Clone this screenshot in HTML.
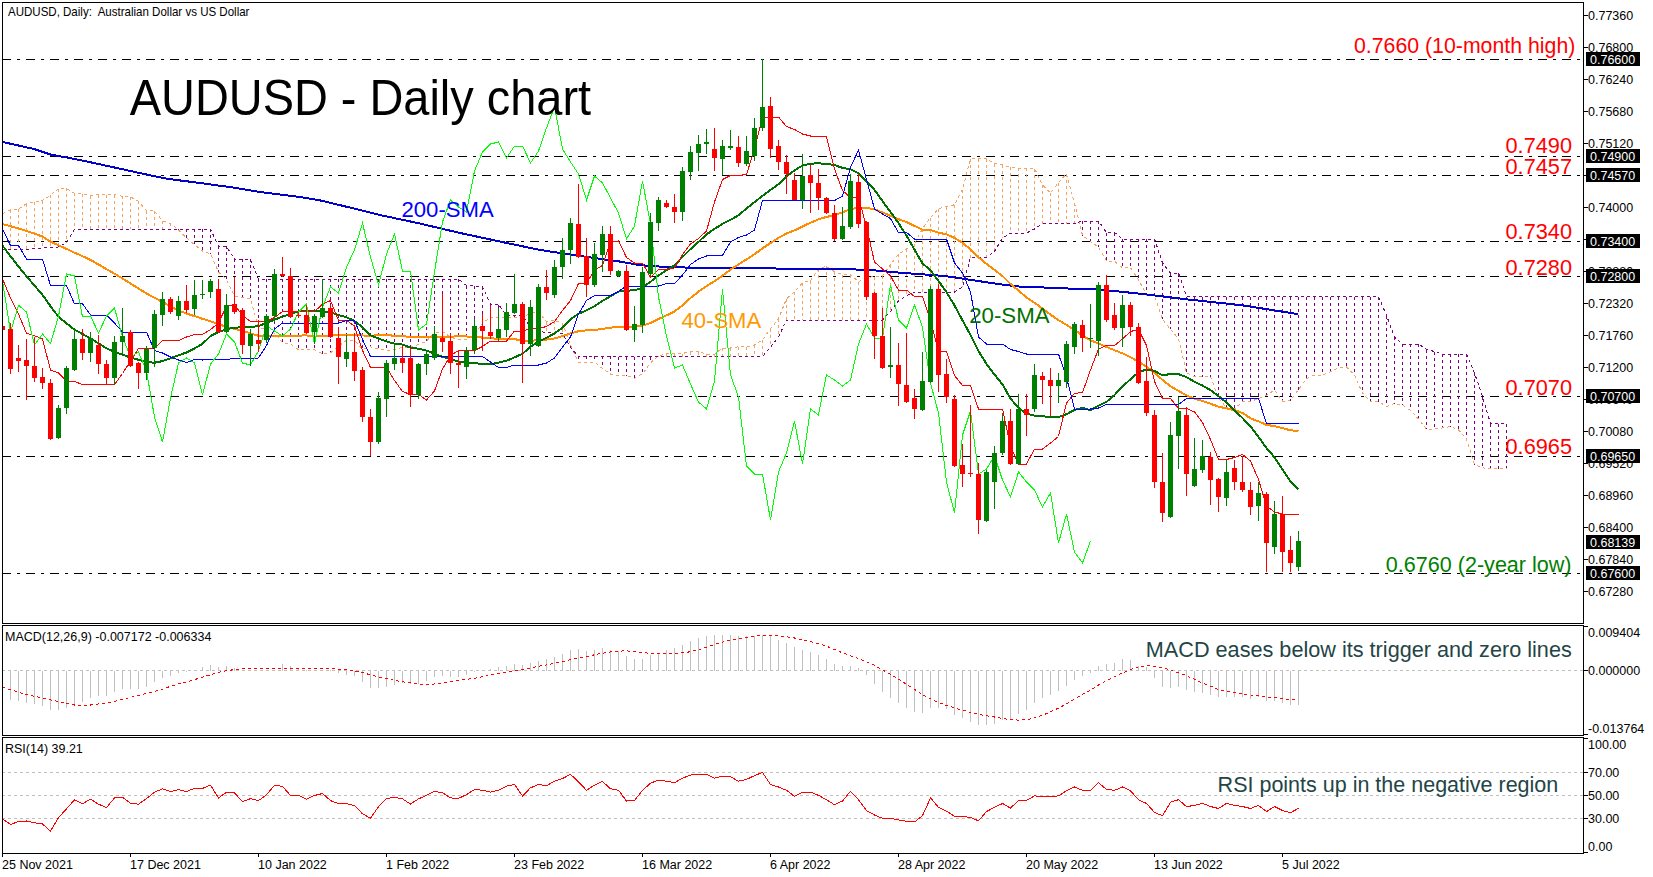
<!DOCTYPE html><html><head><meta charset="utf-8"><style>html,body{margin:0;padding:0;background:#fff;width:1653px;height:877px;overflow:hidden}svg{display:block}text{font-family:"Liberation Sans",sans-serif}</style></head><body>
<svg width="1653" height="877" viewBox="0 0 1653 877">
<rect x="0" y="0" width="1653" height="877" fill="#fff"/>
<defs><clipPath id="cm"><rect x="3" y="3" width="1580" height="620"/></clipPath><clipPath id="cmacd"><rect x="3" y="626" width="1580" height="109"/></clipPath><clipPath id="crsi"><rect x="3" y="738" width="1580" height="115"/></clipPath></defs>
<g clip-path="url(#cm)">
<line x1="2" y1="59.5" x2="1583" y2="59.5" stroke="#000" stroke-width="1" stroke-dasharray="9 6 3 6" shape-rendering="crispEdges"/>
<line x1="2" y1="156.5" x2="1583" y2="156.5" stroke="#000" stroke-width="1" stroke-dasharray="9 6 3 6" shape-rendering="crispEdges"/>
<line x1="2" y1="175.5" x2="1583" y2="175.5" stroke="#000" stroke-width="1" stroke-dasharray="9 6 3 6" shape-rendering="crispEdges"/>
<line x1="2" y1="241.5" x2="1583" y2="241.5" stroke="#000" stroke-width="1" stroke-dasharray="9 6 3 6" shape-rendering="crispEdges"/>
<line x1="2" y1="276.5" x2="1583" y2="276.5" stroke="#000" stroke-width="1" stroke-dasharray="9 6 3 6" shape-rendering="crispEdges"/>
<line x1="2" y1="396.5" x2="1583" y2="396.5" stroke="#000" stroke-width="1" stroke-dasharray="9 6 3 6" shape-rendering="crispEdges"/>
<line x1="2" y1="456.5" x2="1583" y2="456.5" stroke="#000" stroke-width="1" stroke-dasharray="9 6 3 6" shape-rendering="crispEdges"/>
<line x1="2" y1="573.5" x2="1583" y2="573.5" stroke="#000" stroke-width="1" stroke-dasharray="9 6 3 6" shape-rendering="crispEdges"/>
<g stroke="#F4A460" stroke-width="1" stroke-dasharray="3 3" shape-rendering="crispEdges"><line x1="2.5" y1="213.7" x2="2.5" y2="250"/><line x1="10.5" y1="209.8" x2="10.5" y2="249.5"/><line x1="18.5" y1="209.3" x2="18.5" y2="249.5"/><line x1="26.5" y1="203.6" x2="26.5" y2="249.5"/><line x1="34.5" y1="202.2" x2="34.5" y2="248.8"/><line x1="42.5" y1="200.5" x2="42.5" y2="248"/><line x1="50.5" y1="195.4" x2="50.5" y2="247.6"/><line x1="58.5" y1="188.6" x2="58.5" y2="247"/><line x1="66.5" y1="188.3" x2="66.5" y2="242.9"/><line x1="74.5" y1="193.4" x2="74.5" y2="229.3"/><line x1="82.5" y1="193.7" x2="82.5" y2="229.3"/><line x1="90.5" y1="195.8" x2="90.5" y2="229.3"/><line x1="98.5" y1="194.6" x2="98.5" y2="229.3"/><line x1="106.5" y1="194.6" x2="106.5" y2="229.3"/><line x1="114.5" y1="194.6" x2="114.5" y2="229.3"/><line x1="122.5" y1="196.3" x2="122.5" y2="229.3"/><line x1="130.5" y1="196.8" x2="130.5" y2="229.3"/><line x1="138.5" y1="201.4" x2="138.5" y2="229.3"/><line x1="146.5" y1="210.7" x2="146.5" y2="229.3"/><line x1="154.5" y1="211" x2="154.5" y2="229.3"/><line x1="162.5" y1="220.8" x2="162.5" y2="229.3"/><line x1="170.5" y1="223.4" x2="170.5" y2="229.3"/><line x1="530.5" y1="313.6" x2="530.5" y2="327.4"/><line x1="538.5" y1="311.8" x2="538.5" y2="331.2"/><line x1="546.5" y1="321.8" x2="546.5" y2="332.6"/><line x1="554.5" y1="320.5" x2="554.5" y2="332.6"/><line x1="562.5" y1="323.2" x2="562.5" y2="333.4"/><line x1="570.5" y1="345" x2="570.5" y2="347.5"/><line x1="658.5" y1="356" x2="658.5" y2="356.5"/><line x1="666.5" y1="353.5" x2="666.5" y2="356.5"/><line x1="674.5" y1="353.5" x2="674.5" y2="356.5"/><line x1="682.5" y1="353.5" x2="682.5" y2="356.5"/><line x1="690.5" y1="351.5" x2="690.5" y2="356.5"/><line x1="698.5" y1="351.5" x2="698.5" y2="356.5"/><line x1="706.5" y1="354.2" x2="706.5" y2="356.5"/><line x1="714.5" y1="354.2" x2="714.5" y2="356.5"/><line x1="722.5" y1="348" x2="722.5" y2="356.5"/><line x1="730.5" y1="348" x2="730.5" y2="356.5"/><line x1="738.5" y1="346.8" x2="738.5" y2="356.5"/><line x1="746.5" y1="346.8" x2="746.5" y2="356.5"/><line x1="754.5" y1="344.8" x2="754.5" y2="356.5"/><line x1="762.5" y1="339.8" x2="762.5" y2="356.5"/><line x1="770.5" y1="328.8" x2="770.5" y2="347"/><line x1="778.5" y1="318.8" x2="778.5" y2="337"/><line x1="786.5" y1="298.8" x2="786.5" y2="320"/><line x1="794.5" y1="292" x2="794.5" y2="320"/><line x1="802.5" y1="282.8" x2="802.5" y2="320"/><line x1="810.5" y1="280.5" x2="810.5" y2="320"/><line x1="818.5" y1="268.8" x2="818.5" y2="320"/><line x1="826.5" y1="266.2" x2="826.5" y2="320"/><line x1="834.5" y1="271.8" x2="834.5" y2="320"/><line x1="842.5" y1="274.5" x2="842.5" y2="320"/><line x1="850.5" y1="274.5" x2="850.5" y2="320"/><line x1="858.5" y1="281.8" x2="858.5" y2="320"/><line x1="866.5" y1="277.8" x2="866.5" y2="320"/><line x1="874.5" y1="276.5" x2="874.5" y2="320"/><line x1="882.5" y1="275.8" x2="882.5" y2="320"/><line x1="890.5" y1="264.8" x2="890.5" y2="311.5"/><line x1="898.5" y1="254.2" x2="898.5" y2="301"/><line x1="906.5" y1="248.8" x2="906.5" y2="295.5"/><line x1="914.5" y1="243.5" x2="914.5" y2="292.5"/><line x1="922.5" y1="228.8" x2="922.5" y2="292"/><line x1="930.5" y1="217.5" x2="930.5" y2="292"/><line x1="938.5" y1="208.8" x2="938.5" y2="292"/><line x1="946.5" y1="206.5" x2="946.5" y2="292"/><line x1="954.5" y1="204.8" x2="954.5" y2="292"/><line x1="962.5" y1="189.5" x2="962.5" y2="287"/><line x1="970.5" y1="158.8" x2="970.5" y2="257.5"/><line x1="978.5" y1="158.8" x2="978.5" y2="257.5"/><line x1="986.5" y1="158.8" x2="986.5" y2="257.5"/><line x1="994.5" y1="163.5" x2="994.5" y2="251.5"/><line x1="1002.5" y1="165" x2="1002.5" y2="238"/><line x1="1010.5" y1="167.2" x2="1010.5" y2="233"/><line x1="1018.5" y1="168.2" x2="1018.5" y2="233"/><line x1="1026.5" y1="168.2" x2="1026.5" y2="233"/><line x1="1034.5" y1="168.5" x2="1034.5" y2="229"/><line x1="1042.5" y1="184.8" x2="1042.5" y2="223.5"/><line x1="1050.5" y1="193.2" x2="1050.5" y2="223.5"/><line x1="1058.5" y1="182.5" x2="1058.5" y2="223.5"/><line x1="1066.5" y1="173.8" x2="1066.5" y2="223.5"/><line x1="1074.5" y1="203.2" x2="1074.5" y2="223.5"/></g>
<g stroke="#800080" stroke-width="1" stroke-dasharray="3 3" shape-rendering="crispEdges"><line x1="178.5" y1="229.3" x2="178.5" y2="230"/><line x1="186.5" y1="229.3" x2="186.5" y2="237.8"/><line x1="194.5" y1="229.3" x2="194.5" y2="244.6"/><line x1="202.5" y1="229.3" x2="202.5" y2="251"/><line x1="210.5" y1="229.3" x2="210.5" y2="254"/><line x1="218.5" y1="246.3" x2="218.5" y2="271.8"/><line x1="226.5" y1="246.3" x2="226.5" y2="279.8"/><line x1="234.5" y1="259.4" x2="234.5" y2="296.2"/><line x1="242.5" y1="259.4" x2="242.5" y2="297.4"/><line x1="250.5" y1="259.4" x2="250.5" y2="299"/><line x1="258.5" y1="279.3" x2="258.5" y2="327.8"/><line x1="266.5" y1="279.3" x2="266.5" y2="329.2"/><line x1="274.5" y1="279.3" x2="274.5" y2="333.2"/><line x1="282.5" y1="279.3" x2="282.5" y2="342.6"/><line x1="290.5" y1="279.3" x2="290.5" y2="344.1"/><line x1="298.5" y1="279.3" x2="298.5" y2="349.8"/><line x1="306.5" y1="279.3" x2="306.5" y2="349.8"/><line x1="314.5" y1="279.3" x2="314.5" y2="349.8"/><line x1="322.5" y1="279.3" x2="322.5" y2="353.8"/><line x1="330.5" y1="279.3" x2="330.5" y2="352.8"/><line x1="338.5" y1="279.3" x2="338.5" y2="346.5"/><line x1="346.5" y1="279.3" x2="346.5" y2="340.2"/><line x1="354.5" y1="279.3" x2="354.5" y2="340.2"/><line x1="362.5" y1="279.3" x2="362.5" y2="349.5"/><line x1="370.5" y1="279.3" x2="370.5" y2="346.8"/><line x1="378.5" y1="279.3" x2="378.5" y2="348.8"/><line x1="386.5" y1="279.3" x2="386.5" y2="350.2"/><line x1="394.5" y1="279.3" x2="394.5" y2="349.8"/><line x1="402.5" y1="279.3" x2="402.5" y2="347.1"/><line x1="410.5" y1="279.3" x2="410.5" y2="347.2"/><line x1="418.5" y1="279.3" x2="418.5" y2="344.5"/><line x1="426.5" y1="279.3" x2="426.5" y2="341.2"/><line x1="434.5" y1="279.3" x2="434.5" y2="332.8"/><line x1="442.5" y1="279.3" x2="442.5" y2="331.8"/><line x1="450.5" y1="279.3" x2="450.5" y2="337"/><line x1="458.5" y1="279.3" x2="458.5" y2="340"/><line x1="466.5" y1="285.5" x2="466.5" y2="339.8"/><line x1="474.5" y1="286" x2="474.5" y2="333.5"/><line x1="482.5" y1="286.7" x2="482.5" y2="323.2"/><line x1="490.5" y1="304.2" x2="490.5" y2="317.2"/><line x1="498.5" y1="304.5" x2="498.5" y2="317.2"/><line x1="506.5" y1="315.6" x2="506.5" y2="317.2"/><line x1="514.5" y1="315.6" x2="514.5" y2="317.2"/><line x1="522.5" y1="315.6" x2="522.5" y2="317.2"/><line x1="578.5" y1="356.4" x2="578.5" y2="362"/><line x1="586.5" y1="356.4" x2="586.5" y2="362"/><line x1="594.5" y1="356.4" x2="594.5" y2="362"/><line x1="602.5" y1="356.4" x2="602.5" y2="368.5"/><line x1="610.5" y1="356.4" x2="610.5" y2="374"/><line x1="618.5" y1="356.5" x2="618.5" y2="375.5"/><line x1="626.5" y1="356.5" x2="626.5" y2="375.5"/><line x1="634.5" y1="356.5" x2="634.5" y2="378.2"/><line x1="642.5" y1="356.5" x2="642.5" y2="373.8"/><line x1="650.5" y1="356.5" x2="650.5" y2="362.8"/><line x1="1082.5" y1="221" x2="1082.5" y2="235.5"/><line x1="1090.5" y1="221" x2="1090.5" y2="241.5"/><line x1="1098.5" y1="221" x2="1098.5" y2="247.2"/><line x1="1106.5" y1="232.5" x2="1106.5" y2="261.2"/><line x1="1114.5" y1="232.5" x2="1114.5" y2="261.2"/><line x1="1122.5" y1="239" x2="1122.5" y2="267.8"/><line x1="1130.5" y1="239" x2="1130.5" y2="267.8"/><line x1="1138.5" y1="239" x2="1138.5" y2="279.5"/><line x1="1146.5" y1="239" x2="1146.5" y2="295.2"/><line x1="1154.5" y1="239" x2="1154.5" y2="295.2"/><line x1="1162.5" y1="263" x2="1162.5" y2="319.2"/><line x1="1170.5" y1="273" x2="1170.5" y2="329.2"/><line x1="1178.5" y1="273" x2="1178.5" y2="338.8"/><line x1="1186.5" y1="296.5" x2="1186.5" y2="373"/><line x1="1194.5" y1="296.5" x2="1194.5" y2="376.5"/><line x1="1202.5" y1="296.5" x2="1202.5" y2="376.5"/><line x1="1210.5" y1="296.5" x2="1210.5" y2="376.5"/><line x1="1218.5" y1="296.5" x2="1218.5" y2="398"/><line x1="1226.5" y1="296.5" x2="1226.5" y2="407.8"/><line x1="1234.5" y1="296.5" x2="1234.5" y2="409"/><line x1="1242.5" y1="296.5" x2="1242.5" y2="401.5"/><line x1="1250.5" y1="296.5" x2="1250.5" y2="401.5"/><line x1="1258.5" y1="296.5" x2="1258.5" y2="398.5"/><line x1="1266.5" y1="296.5" x2="1266.5" y2="395.2"/><line x1="1274.5" y1="296.5" x2="1274.5" y2="390.2"/><line x1="1282.5" y1="296.5" x2="1282.5" y2="401.2"/><line x1="1290.5" y1="296.5" x2="1290.5" y2="400.8"/><line x1="1298.5" y1="296.5" x2="1298.5" y2="389.5"/><line x1="1306.5" y1="296.5" x2="1306.5" y2="378.5"/><line x1="1314.5" y1="296.5" x2="1314.5" y2="375"/><line x1="1322.5" y1="296.5" x2="1322.5" y2="375"/><line x1="1330.5" y1="296.5" x2="1330.5" y2="371.8"/><line x1="1338.5" y1="296.5" x2="1338.5" y2="368"/><line x1="1346.5" y1="296.5" x2="1346.5" y2="367"/><line x1="1354.5" y1="296.5" x2="1354.5" y2="375"/><line x1="1362.5" y1="296.5" x2="1362.5" y2="393"/><line x1="1370.5" y1="296.5" x2="1370.5" y2="401.5"/><line x1="1378.5" y1="296.5" x2="1378.5" y2="401.5"/><line x1="1386.5" y1="315.5" x2="1386.5" y2="406.5"/><line x1="1394.5" y1="337" x2="1394.5" y2="403.5"/><line x1="1402.5" y1="344" x2="1402.5" y2="405.2"/><line x1="1410.5" y1="344" x2="1410.5" y2="410.5"/><line x1="1418.5" y1="344" x2="1418.5" y2="419"/><line x1="1426.5" y1="349.5" x2="1426.5" y2="429"/><line x1="1434.5" y1="351.5" x2="1434.5" y2="429"/><line x1="1442.5" y1="354" x2="1442.5" y2="428"/><line x1="1450.5" y1="354" x2="1450.5" y2="426.5"/><line x1="1458.5" y1="354" x2="1458.5" y2="429.8"/><line x1="1466.5" y1="354" x2="1466.5" y2="439"/><line x1="1474.5" y1="373" x2="1474.5" y2="464.8"/><line x1="1482.5" y1="396.5" x2="1482.5" y2="467.8"/><line x1="1490.5" y1="423.5" x2="1490.5" y2="468.8"/><line x1="1498.5" y1="423.5" x2="1498.5" y2="468.8"/><line x1="1506.5" y1="423.5" x2="1506.5" y2="468.8"/></g>
<polyline points="2.5,213.7 10.5,209.8 18.5,209.3 26.5,203.6 34.5,202.2 42.5,200.5 50.5,195.4 58.5,188.6 66.5,188.3 74.5,193.4 82.5,193.7 90.5,195.8 98.5,194.6 106.5,194.6 114.5,194.6 122.5,196.3 130.5,196.8 138.5,201.4 146.5,210.7 154.5,211 162.5,220.8 170.5,223.4 178.5,230 186.5,237.8 194.5,244.6 202.5,251 210.5,254 218.5,271.8 226.5,279.8 234.5,296.2 242.5,297.4 250.5,299 258.5,327.8 266.5,329.2 274.5,333.2 282.5,342.6 290.5,344.1 298.5,349.8 306.5,349.8 314.5,349.8 322.5,353.8 330.5,352.8 338.5,346.5 346.5,340.2 354.5,340.2 362.5,349.5 370.5,346.8 378.5,348.8 386.5,350.2 394.5,349.8 402.5,347.1 410.5,347.2 418.5,344.5 426.5,341.2 434.5,332.8 442.5,331.8 450.5,337 458.5,340 466.5,339.8 474.5,333.5 482.5,323.2 490.5,317.2 498.5,317.2 506.5,317.2 514.5,317.2 522.5,317.2 530.5,313.6 538.5,311.8 546.5,321.8 554.5,320.5 562.5,323.2 570.5,345 578.5,362 586.5,362 594.5,362 602.5,368.5 610.5,374 618.5,375.5 626.5,375.5 634.5,378.2 642.5,373.8 650.5,362.8 658.5,356 666.5,353.5 674.5,353.5 682.5,353.5 690.5,351.5 698.5,351.5 706.5,354.2 714.5,354.2 722.5,348 730.5,348 738.5,346.8 746.5,346.8 754.5,344.8 762.5,339.8 770.5,328.8 778.5,318.8 786.5,298.8 794.5,292 802.5,282.8 810.5,280.5 818.5,268.8 826.5,266.2 834.5,271.8 842.5,274.5 850.5,274.5 858.5,281.8 866.5,277.8 874.5,276.5 882.5,275.8 890.5,264.8 898.5,254.2 906.5,248.8 914.5,243.5 922.5,228.8 930.5,217.5 938.5,208.8 946.5,206.5 954.5,204.8 962.5,189.5 970.5,158.8 978.5,158.8 986.5,158.8 994.5,163.5 1002.5,165 1010.5,167.2 1018.5,168.2 1026.5,168.2 1034.5,168.5 1042.5,184.8 1050.5,193.2 1058.5,182.5 1066.5,173.8 1074.5,203.2 1082.5,235.5 1090.5,241.5 1098.5,247.2 1106.5,261.2 1114.5,261.2 1122.5,267.8 1130.5,267.8 1138.5,279.5 1146.5,295.2 1154.5,295.2 1162.5,319.2 1170.5,329.2 1178.5,338.8 1186.5,373 1194.5,376.5 1202.5,376.5 1210.5,376.5 1218.5,398 1226.5,407.8 1234.5,409 1242.5,401.5 1250.5,401.5 1258.5,398.5 1266.5,395.2 1274.5,390.2 1282.5,401.2 1290.5,400.8 1298.5,389.5 1306.5,378.5 1314.5,375 1322.5,375 1330.5,371.8 1338.5,368 1346.5,367 1354.5,375 1362.5,393 1370.5,401.5 1378.5,401.5 1386.5,406.5 1394.5,403.5 1402.5,405.2 1410.5,410.5 1418.5,419 1426.5,429 1434.5,429 1442.5,428 1450.5,426.5 1458.5,429.8 1466.5,439 1474.5,464.8 1482.5,467.8 1490.5,468.8 1498.5,468.8 1506.5,468.8" fill="none" stroke="#F4A460" stroke-width="1" stroke-dasharray="3 3" shape-rendering="crispEdges"/>
<polyline points="2.5,250 10.5,249.5 18.5,249.5 26.5,249.5 34.5,248.8 42.5,248 50.5,247.6 58.5,247 66.5,242.9 74.5,229.3 82.5,229.3 90.5,229.3 98.5,229.3 106.5,229.3 114.5,229.3 122.5,229.3 130.5,229.3 138.5,229.3 146.5,229.3 154.5,229.3 162.5,229.3 170.5,229.3 178.5,229.3 186.5,229.3 194.5,229.3 202.5,229.3 210.5,229.3 218.5,246.3 226.5,246.3 234.5,259.4 242.5,259.4 250.5,259.4 258.5,279.3 266.5,279.3 274.5,279.3 282.5,279.3 290.5,279.3 298.5,279.3 306.5,279.3 314.5,279.3 322.5,279.3 330.5,279.3 338.5,279.3 346.5,279.3 354.5,279.3 362.5,279.3 370.5,279.3 378.5,279.3 386.5,279.3 394.5,279.3 402.5,279.3 410.5,279.3 418.5,279.3 426.5,279.3 434.5,279.3 442.5,279.3 450.5,279.3 458.5,279.3 466.5,285.5 474.5,286 482.5,286.7 490.5,304.2 498.5,304.5 506.5,315.6 514.5,315.6 522.5,315.6 530.5,327.4 538.5,331.2 546.5,332.6 554.5,332.6 562.5,333.4 570.5,347.5 578.5,356.4 586.5,356.4 594.5,356.4 602.5,356.4 610.5,356.4 618.5,356.5 626.5,356.5 634.5,356.5 642.5,356.5 650.5,356.5 658.5,356.5 666.5,356.5 674.5,356.5 682.5,356.5 690.5,356.5 698.5,356.5 706.5,356.5 714.5,356.5 722.5,356.5 730.5,356.5 738.5,356.5 746.5,356.5 754.5,356.5 762.5,356.5 770.5,347 778.5,337 786.5,320 794.5,320 802.5,320 810.5,320 818.5,320 826.5,320 834.5,320 842.5,320 850.5,320 858.5,320 866.5,320 874.5,320 882.5,320 890.5,311.5 898.5,301 906.5,295.5 914.5,292.5 922.5,292 930.5,292 938.5,292 946.5,292 954.5,292 962.5,287 970.5,257.5 978.5,257.5 986.5,257.5 994.5,251.5 1002.5,238 1010.5,233 1018.5,233 1026.5,233 1034.5,229 1042.5,223.5 1050.5,223.5 1058.5,223.5 1066.5,223.5 1074.5,223.5 1082.5,221 1090.5,221 1098.5,221 1106.5,232.5 1114.5,232.5 1122.5,239 1130.5,239 1138.5,239 1146.5,239 1154.5,239 1162.5,263 1170.5,273 1178.5,273 1186.5,296.5 1194.5,296.5 1202.5,296.5 1210.5,296.5 1218.5,296.5 1226.5,296.5 1234.5,296.5 1242.5,296.5 1250.5,296.5 1258.5,296.5 1266.5,296.5 1274.5,296.5 1282.5,296.5 1290.5,296.5 1298.5,296.5 1306.5,296.5 1314.5,296.5 1322.5,296.5 1330.5,296.5 1338.5,296.5 1346.5,296.5 1354.5,296.5 1362.5,296.5 1370.5,296.5 1378.5,296.5 1386.5,315.5 1394.5,337 1402.5,344 1410.5,344 1418.5,344 1426.5,349.5 1434.5,351.5 1442.5,354 1450.5,354 1458.5,354 1466.5,354 1474.5,373 1482.5,396.5 1490.5,423.5 1498.5,423.5 1506.5,423.5" fill="none" stroke="#800080" stroke-width="1" stroke-dasharray="3 3" shape-rendering="crispEdges"/>
<polyline points="2,141.8 34,149 50,154.4 80,160 111.8,166.9 143.7,173.9 167.7,178.9 199.6,182.9 235.6,187.9 259.5,191.9 299.5,196.9 320,200.4 356,209 379.9,215 419.8,223.5 459.7,232.9 499.7,241.5 539.6,249.9 579.5,255.9 619.5,261.5 640,265.2 666,267 722.8,268.5 755.5,267.8 788,268.9 866.6,269.6 901.4,272.8 945,276 1000,284.3 1019,286.5 1075.2,288.8 1098.4,289.4 1144.9,294.2 1183.6,299 1241.6,305.2 1297.8,314.1" fill="none" stroke="#0000CD" stroke-width="2" shape-rendering="crispEdges"/>
<polyline points="2.5,224 10.5,226.2 18.5,228.5 26.5,230.9 34.5,233.7 42.5,236.5 50.5,241.6 58.5,245.3 66.5,248.9 74.5,252.6 82.5,256.2 90.5,259.9 98.5,264.5 106.5,269.1 114.5,273.7 122.5,278.5 130.5,283.5 138.5,288.5 146.5,293.5 154.5,297.8 162.5,302 170.5,306.3 178.5,310.5 186.5,313.5 194.5,316.1 202.5,318.8 210.5,321.4 218.5,324.1 226.5,326.8 234.5,328.9 242.5,330.8 250.5,333.4 258.5,335.8 266.5,335.8 274.5,335.8 282.5,335.7 290.5,335.7 298.5,335.6 306.5,335.4 314.5,336.6 322.5,336.1 330.5,335.3 338.5,335.2 346.5,334.9 354.5,334.7 362.5,335.5 370.5,335.6 378.5,335.4 386.5,335.2 394.5,335.7 402.5,335.9 410.5,337.4 418.5,337.4 426.5,336.8 434.5,336.6 442.5,336.7 450.5,336.6 458.5,336.4 466.5,336.5 474.5,336.8 482.5,337.6 490.5,338.2 498.5,338.9 506.5,338.9 514.5,339.2 522.5,340.4 530.5,341.1 538.5,339.9 546.5,339.6 554.5,338.5 562.5,336.1 570.5,333.4 578.5,331.2 586.5,330.4 594.5,329.9 602.5,328.9 610.5,327.7 618.5,326.6 626.5,326.5 634.5,326.7 642.5,325.8 650.5,322.9 658.5,319 666.5,315.4 674.5,311.4 682.5,305.3 690.5,298 698.5,291.7 706.5,286.1 714.5,281.1 722.5,275.7 730.5,269.5 738.5,264.5 746.5,259.4 754.5,254.2 762.5,248.4 770.5,243 778.5,237.9 786.5,233.5 794.5,230.4 802.5,226.5 810.5,222.7 818.5,219.4 826.5,216.9 834.5,215.3 842.5,212.3 850.5,209.2 858.5,207.6 866.5,207.7 874.5,209.4 882.5,212.4 890.5,215.9 898.5,219.1 906.5,222.1 914.5,225.9 922.5,229.6 930.5,230.1 938.5,232.7 946.5,234.3 954.5,237.9 962.5,242.9 970.5,249.2 978.5,257.2 986.5,263.9 994.5,269.9 1002.5,276.1 1010.5,283.9 1018.5,290.6 1026.5,297.4 1034.5,302.8 1042.5,308.6 1050.5,314.6 1058.5,320.1 1066.5,324.9 1074.5,329.8 1082.5,335.6 1090.5,340.3 1098.5,343.4 1106.5,347 1114.5,350.2 1122.5,353.4 1130.5,357.1 1138.5,361.7 1146.5,366.7 1154.5,372.8 1162.5,379.9 1170.5,386.3 1178.5,390.9 1186.5,395.4 1194.5,398.7 1202.5,400.9 1210.5,403.8 1218.5,406.6 1226.5,408.4 1234.5,410.2 1242.5,412.9 1250.5,418.4 1258.5,421.3 1266.5,424.9 1274.5,426.1 1282.5,428.1 1290.5,430.3 1298.5,430.9" fill="none" stroke="#FF8C00" stroke-width="2" shape-rendering="crispEdges"/>
<polyline points="2.5,245.5 10.5,256.2 18.5,266.5 26.5,276.3 34.5,285.5 42.5,294.9 50.5,306.2 58.5,316.8 66.5,323.3 74.5,329.6 82.5,334 90.5,338.4 98.5,343.4 106.5,348.4 114.5,351.7 122.5,354.7 130.5,357.6 138.5,359.8 146.5,362 154.5,362.7 162.5,361.1 170.5,358.3 178.5,355.3 186.5,352.5 194.5,348.4 202.5,343.9 210.5,336 218.5,332.2 226.5,329.1 234.5,327.7 242.5,327.3 250.5,327.1 258.5,326.1 266.5,323 274.5,319.6 282.5,316.6 290.5,314.1 298.5,311.3 306.5,310.5 314.5,310.6 322.5,311.1 330.5,312.3 338.5,315.1 346.5,317.2 354.5,321 362.5,327.1 370.5,335.2 378.5,338.5 386.5,341.4 394.5,343.7 402.5,344.6 410.5,347.6 418.5,348.7 426.5,350.6 434.5,353.6 442.5,356.9 450.5,359.1 458.5,361.6 466.5,362.5 474.5,363 482.5,364.1 490.5,364.1 498.5,362.7 506.5,360.7 514.5,357.4 522.5,353.7 530.5,346.9 538.5,341.4 546.5,337.9 554.5,333.4 562.5,327.7 570.5,319.1 578.5,313.8 586.5,310.3 594.5,306.3 602.5,300.9 610.5,296.3 618.5,291.6 626.5,290.6 634.5,290.4 642.5,287.5 650.5,281.8 658.5,275.4 666.5,270.1 674.5,265.5 682.5,256.9 690.5,249.1 698.5,241.9 706.5,234.4 714.5,228.9 722.5,223.8 730.5,219.9 738.5,215.2 746.5,208.5 754.5,202.2 762.5,195.8 770.5,189.8 778.5,184.3 786.5,176.5 794.5,170.3 802.5,165.5 810.5,163.6 818.5,163.4 826.5,163.8 834.5,165.1 842.5,167.8 850.5,169.3 858.5,173.3 866.5,181.1 874.5,189.9 882.5,201.1 890.5,212 898.5,223.1 906.5,235.6 914.5,249.7 922.5,263.4 930.5,270.4 938.5,281 946.5,292.1 954.5,305.4 962.5,320.4 970.5,334.9 978.5,351 986.5,363.9 994.5,374.6 1002.5,384.4 1010.5,398.6 1018.5,407.8 1026.5,413.7 1034.5,415.6 1042.5,416.2 1050.5,417.3 1058.5,417.1 1066.5,414.2 1074.5,409.9 1082.5,407.8 1090.5,410.2 1098.5,405.8 1106.5,401.9 1114.5,395 1122.5,386.6 1130.5,379.2 1138.5,372.4 1146.5,369.4 1154.5,370.9 1162.5,375.4 1170.5,374 1178.5,374.1 1186.5,377.1 1194.5,381.8 1202.5,385.6 1210.5,390.2 1218.5,396.1 1226.5,402.5 1234.5,410.4 1242.5,418 1250.5,426.4 1258.5,436.9 1266.5,448 1274.5,457.3 1282.5,469.6 1290.5,481.4 1298.5,489.4" fill="none" stroke="#007000" stroke-width="2" shape-rendering="crispEdges"/>
<polyline points="2.5,279 10.5,298 18.5,314 26.5,333.4 34.5,335.7 42.5,339 50.5,370 58.5,373 66.5,381 74.5,381.5 82.5,384.5 90.5,384.5 98.5,384.5 106.5,384.5 114.5,384.5 122.5,373.5 130.5,361 138.5,348.5 146.5,348.5 154.5,348.5 162.5,340.5 170.5,340.5 178.5,340.5 186.5,337 194.5,334.5 202.5,334.5 210.5,329.5 218.5,323 226.5,306 234.5,305 242.5,315.5 250.5,321.5 258.5,321.5 266.5,321.5 274.5,317.5 282.5,311.5 290.5,311.5 298.5,311.5 306.5,311.5 314.5,311.5 322.5,304.2 330.5,300.5 338.5,320.5 346.5,320.5 354.5,326 362.5,350.5 370.5,367.5 378.5,367.5 386.5,367.5 394.5,380.5 402.5,391.5 410.5,394.5 418.5,394.5 426.5,400 434.5,391 442.5,369 450.5,355.5 458.5,350.5 466.5,350.5 474.5,350.5 482.5,346.5 490.5,341 498.5,341 506.5,341 514.5,331 522.5,331 530.5,328.5 538.5,328.5 546.5,326.5 554.5,321.5 562.5,310.5 570.5,300.5 578.5,283.5 586.5,283.5 594.5,270 602.5,265.5 610.5,242 618.5,241 626.5,257.5 634.5,263 642.5,263 650.5,277.5 658.5,269.5 666.5,269.5 674.5,268 682.5,254.5 690.5,244 698.5,238.5 706.5,231 714.5,202 722.5,179.5 730.5,175.5 738.5,175.5 746.5,174.5 754.5,149 762.5,117 770.5,117 778.5,117 786.5,126.5 794.5,129.5 802.5,134 810.5,136 818.5,136 826.5,136.5 834.5,169 842.5,190.5 850.5,197.5 858.5,197.5 866.5,227 874.5,262 882.5,269 890.5,276 898.5,290 906.5,290 914.5,296.5 922.5,296.5 930.5,320 938.5,351.5 946.5,351.5 954.5,375.5 962.5,385.5 970.5,385.5 978.5,409 986.5,409 994.5,409 1002.5,409 1010.5,446.5 1018.5,464 1026.5,464 1034.5,449 1042.5,449 1050.5,443 1058.5,436.5 1066.5,403 1074.5,393.5 1082.5,392.5 1090.5,370 1098.5,349 1106.5,345.5 1114.5,345.5 1122.5,339 1130.5,331.5 1138.5,329.5 1146.5,345.5 1154.5,381.5 1162.5,398.5 1170.5,398.5 1178.5,408.5 1186.5,408.5 1194.5,412 1202.5,422.5 1210.5,439.5 1218.5,459.5 1226.5,459.5 1234.5,457.5 1242.5,454.5 1250.5,461 1258.5,479.5 1266.5,506 1274.5,512 1282.5,514 1290.5,514 1298.5,514" fill="none" stroke="#FF0000" stroke-width="1" shape-rendering="crispEdges"/>
<polyline points="2.5,229 10.5,245.6 18.5,245.6 26.5,259 34.5,259 42.5,259 50.5,285.5 58.5,285.5 66.5,285.5 74.5,303.8 82.5,303.8 90.5,315 98.5,315 106.5,315 114.5,323 122.5,332 130.5,332 138.5,332 146.5,332 154.5,350.5 162.5,353 170.5,357 178.5,360 186.5,362.5 194.5,359.6 202.5,360 210.5,359.5 218.5,359.5 226.5,359.5 234.5,358.5 242.5,358.5 250.5,358.5 258.5,358 266.5,345.5 274.5,329 282.5,323 290.5,323 298.5,323 306.5,323 314.5,323 322.5,323 330.5,323 338.5,323 346.5,320.5 354.5,320.5 362.5,339.5 370.5,356.5 378.5,356.5 386.5,356.5 394.5,356.5 402.5,356.5 410.5,356.5 418.5,356.5 426.5,356.5 434.5,356.5 442.5,356.5 450.5,356.5 458.5,356.5 466.5,356.5 474.5,356.5 482.5,356.5 490.5,362 498.5,367.5 506.5,367.5 514.5,365 522.5,365 530.5,365 538.5,365 546.5,363 554.5,358 562.5,347 570.5,337 578.5,314 586.5,300.5 594.5,295.5 602.5,295.5 610.5,295.5 618.5,291.5 626.5,286 634.5,286 642.5,286 650.5,286 658.5,286 666.5,283.5 674.5,283.5 682.5,275 690.5,264.5 698.5,259 706.5,256 714.5,255.5 722.5,255.5 730.5,242 738.5,237.5 746.5,235 754.5,230 762.5,200.5 770.5,200.5 778.5,200.5 786.5,200.5 794.5,200.5 802.5,200.5 810.5,200.5 818.5,200.5 826.5,200.5 834.5,200.5 842.5,196 850.5,167.5 858.5,150 866.5,179.5 874.5,209 882.5,214 890.5,218.5 898.5,232.5 906.5,232.5 914.5,239 922.5,239 930.5,239 938.5,239 946.5,239 954.5,263 962.5,273 970.5,292 978.5,337 986.5,344 994.5,344 1002.5,344 1010.5,349.5 1018.5,351.5 1026.5,354 1034.5,354 1042.5,354 1050.5,354 1058.5,354 1066.5,377.5 1074.5,409 1082.5,409 1090.5,409 1098.5,408 1106.5,404.5 1114.5,404.5 1122.5,404.5 1130.5,404.5 1138.5,404.5 1146.5,404.5 1154.5,404.5 1162.5,404.5 1170.5,404.5 1178.5,404.5 1186.5,398.5 1194.5,398.5 1202.5,398.5 1210.5,398.5 1218.5,398.5 1226.5,398.5 1234.5,398.5 1242.5,398.5 1250.5,398.5 1258.5,398.5 1266.5,423.5 1274.5,423.5 1282.5,423.5 1290.5,423.5 1298.5,423.5" fill="none" stroke="#0000FF" stroke-width="1" shape-rendering="crispEdges"/>
<polyline points="2.5,281 10.5,332 18.5,305.3 26.5,312 34.5,345 42.5,334 50.5,343.5 58.5,316.2 66.5,274 74.5,276 82.5,317 90.5,316 98.5,333 106.5,316 114.5,308 122.5,337 130.5,357 138.5,352 146.5,371 154.5,417 162.5,442 170.5,398 178.5,363 186.5,358 194.5,363 202.5,395 210.5,364 218.5,354 226.5,334 234.5,342 242.5,363 250.5,365 258.5,351 266.5,326 274.5,331 282.5,336 290.5,329 298.5,312 306.5,304 314.5,344 322.5,307 330.5,287 338.5,293 346.5,267 354.5,250 362.5,223 370.5,257 378.5,285 386.5,254 394.5,234 402.5,271 410.5,271 418.5,330 426.5,324 434.5,272 442.5,222 450.5,200 458.5,207 466.5,212 474.5,171 482.5,152 490.5,144 498.5,142 506.5,158 514.5,146 522.5,146 530.5,163 538.5,151 546.5,128 554.5,107 562.5,149 570.5,162 578.5,174 586.5,200 594.5,176 602.5,183 610.5,198 618.5,213 626.5,239 634.5,226 642.5,181 650.5,224 658.5,297 666.5,336 674.5,368 682.5,365 690.5,384 698.5,402 706.5,409 714.5,381 722.5,289 730.5,375 738.5,397 746.5,466 754.5,474 762.5,474 770.5,520 778.5,472 786.5,453 794.5,421 802.5,464 810.5,409 818.5,415 826.5,375 834.5,380 842.5,386 850.5,380 858.5,344 866.5,324 874.5,338 882.5,338 890.5,285 898.5,320 906.5,328 914.5,305 922.5,327 930.5,383 938.5,413 946.5,482 954.5,513 962.5,435 970.5,411 978.5,474 986.5,469 994.5,456 1002.5,480 1010.5,497 1018.5,472 1026.5,482 1034.5,490 1042.5,507 1050.5,493 1058.5,543 1066.5,514 1074.5,552 1082.5,563 1090.5,541" fill="none" stroke="#00FF00" stroke-width="1" shape-rendering="crispEdges"/>
<g fill="#008000" shape-rendering="crispEdges"><rect x="58" y="405" width="1" height="34"/><rect x="56" y="408" width="5" height="30"/><rect x="66" y="366" width="1" height="48"/><rect x="64" y="368" width="5" height="40"/><rect x="74" y="329" width="1" height="42"/><rect x="72" y="339" width="5" height="31"/><rect x="90" y="332" width="1" height="30"/><rect x="88" y="338" width="5" height="15"/><rect x="114" y="336" width="1" height="49"/><rect x="112" y="342" width="5" height="36"/><rect x="122" y="308" width="1" height="46"/><rect x="120" y="336" width="5" height="6"/><rect x="146" y="346" width="1" height="34"/><rect x="144" y="349" width="5" height="24"/><rect x="154" y="310" width="1" height="57"/><rect x="152" y="314" width="5" height="34"/><rect x="162" y="292" width="1" height="34"/><rect x="160" y="299" width="5" height="16"/><rect x="178" y="296" width="1" height="24"/><rect x="176" y="301" width="5" height="15"/><rect x="194" y="280" width="1" height="35"/><rect x="192" y="295" width="5" height="14"/><rect x="202" y="280" width="1" height="19"/><rect x="200" y="294" width="5" height="1"/><rect x="210" y="279" width="1" height="19"/><rect x="208" y="281" width="5" height="11"/><rect x="226" y="294" width="1" height="39"/><rect x="224" y="305.3" width="5" height="26.3"/><rect x="250" y="329" width="1" height="37"/><rect x="248" y="334" width="5" height="12.4"/><rect x="266" y="314" width="1" height="29"/><rect x="264" y="316.2" width="5" height="23.4"/><rect x="274" y="269" width="1" height="53"/><rect x="272" y="274" width="5" height="42"/><rect x="314" y="314" width="1" height="30"/><rect x="312" y="316" width="5" height="16"/><rect x="322" y="279" width="1" height="39"/><rect x="320" y="308" width="5" height="9"/><rect x="346" y="335" width="1" height="32"/><rect x="344" y="352" width="5" height="7"/><rect x="378" y="392" width="1" height="52"/><rect x="376" y="398" width="5" height="44"/><rect x="386" y="360" width="1" height="57"/><rect x="384" y="363" width="5" height="36"/><rect x="394" y="344" width="1" height="26"/><rect x="392" y="358" width="5" height="6"/><rect x="418" y="363" width="1" height="36"/><rect x="416" y="364" width="5" height="31"/><rect x="426" y="351" width="1" height="24"/><rect x="424" y="354" width="5" height="10"/><rect x="434" y="326" width="1" height="34"/><rect x="432" y="334" width="5" height="24"/><rect x="466" y="347" width="1" height="32"/><rect x="464" y="351" width="5" height="16"/><rect x="474" y="319" width="1" height="35"/><rect x="472" y="326" width="5" height="24"/><rect x="498" y="308" width="1" height="33"/><rect x="496" y="329" width="5" height="9"/><rect x="506" y="303" width="1" height="34"/><rect x="504" y="312" width="5" height="18"/><rect x="514" y="274" width="1" height="40"/><rect x="512" y="304" width="5" height="9"/><rect x="530" y="300" width="1" height="56"/><rect x="528" y="307" width="5" height="37"/><rect x="538" y="284" width="1" height="63"/><rect x="536" y="287" width="5" height="59"/><rect x="554" y="260" width="1" height="38"/><rect x="552" y="267" width="5" height="28"/><rect x="562" y="238" width="1" height="41"/><rect x="560" y="250" width="5" height="17"/><rect x="570" y="218" width="1" height="46"/><rect x="568" y="223" width="5" height="27"/><rect x="594" y="243" width="1" height="44"/><rect x="592" y="254" width="5" height="31"/><rect x="602" y="226" width="1" height="46"/><rect x="600" y="234" width="5" height="21"/><rect x="618" y="270" width="1" height="7"/><rect x="616" y="271" width="5" height="5"/><rect x="634" y="306" width="1" height="36"/><rect x="632" y="324" width="5" height="6"/><rect x="642" y="267" width="1" height="66"/><rect x="640" y="272" width="5" height="53"/><rect x="650" y="213" width="1" height="63"/><rect x="648" y="222" width="5" height="52"/><rect x="658" y="197" width="1" height="34"/><rect x="656" y="200" width="5" height="23"/><rect x="682" y="167" width="1" height="54"/><rect x="680" y="171" width="5" height="41"/><rect x="690" y="146" width="1" height="34"/><rect x="688" y="152" width="5" height="20"/><rect x="698" y="135" width="1" height="36"/><rect x="696" y="144" width="5" height="9"/><rect x="706" y="129" width="1" height="25"/><rect x="704" y="142" width="5" height="2"/><rect x="722" y="140" width="1" height="35"/><rect x="720" y="146" width="5" height="13"/><rect x="730" y="130" width="1" height="20"/><rect x="728" y="146" width="5" height="2"/><rect x="746" y="136" width="1" height="30"/><rect x="744" y="151" width="5" height="13"/><rect x="754" y="118" width="1" height="43"/><rect x="752" y="128" width="5" height="28"/><rect x="762" y="59" width="1" height="72"/><rect x="760" y="107" width="5" height="21"/><rect x="802" y="154" width="1" height="55"/><rect x="800" y="176" width="5" height="24"/><rect x="842" y="207" width="1" height="33"/><rect x="840" y="226" width="5" height="13"/><rect x="850" y="174" width="1" height="55"/><rect x="848" y="181" width="5" height="46"/><rect x="890" y="327" width="1" height="51"/><rect x="888" y="365" width="5" height="2"/><rect x="922" y="352" width="1" height="59"/><rect x="920" y="381" width="5" height="29"/><rect x="930" y="286" width="1" height="97"/><rect x="928" y="289" width="5" height="93"/><rect x="986" y="470" width="1" height="52"/><rect x="984" y="472" width="5" height="49"/><rect x="994" y="446" width="1" height="63"/><rect x="992" y="453" width="5" height="29"/><rect x="1002" y="413" width="1" height="42"/><rect x="1000" y="421" width="5" height="32"/><rect x="1018" y="394" width="1" height="71"/><rect x="1016" y="409" width="5" height="55"/><rect x="1034" y="364" width="1" height="48"/><rect x="1032" y="375" width="5" height="34"/><rect x="1058" y="373" width="1" height="30"/><rect x="1056" y="380" width="5" height="6"/><rect x="1066" y="341" width="1" height="47"/><rect x="1064" y="344" width="5" height="38"/><rect x="1074" y="322" width="1" height="32"/><rect x="1072" y="324" width="5" height="23"/><rect x="1090" y="304" width="1" height="44"/><rect x="1088" y="338" width="5" height="1"/><rect x="1098" y="282" width="1" height="74"/><rect x="1096" y="285" width="5" height="56"/><rect x="1122" y="295" width="1" height="52"/><rect x="1120" y="305" width="5" height="23"/><rect x="1170" y="422" width="1" height="96"/><rect x="1168" y="435" width="5" height="82"/><rect x="1178" y="397" width="1" height="72"/><rect x="1176" y="411" width="5" height="25"/><rect x="1194" y="438" width="1" height="49"/><rect x="1192" y="469" width="5" height="17"/><rect x="1202" y="440" width="1" height="33"/><rect x="1200" y="456" width="5" height="14"/><rect x="1226" y="460" width="1" height="46"/><rect x="1224" y="472" width="5" height="26"/><rect x="1258" y="482" width="1" height="39"/><rect x="1256" y="493" width="5" height="13"/><rect x="1274" y="501" width="1" height="53"/><rect x="1272" y="514" width="5" height="33"/><rect x="1298" y="531" width="1" height="40"/><rect x="1296" y="541" width="5" height="26"/></g>
<g fill="#FF0000" shape-rendering="crispEdges"><rect x="2" y="322" width="1" height="12"/><rect x="0" y="326" width="5" height="4"/><rect x="10" y="323" width="1" height="51"/><rect x="8" y="329" width="5" height="40"/><rect x="18" y="345" width="1" height="27"/><rect x="16" y="358" width="5" height="3"/><rect x="26" y="339" width="1" height="61"/><rect x="24" y="360" width="5" height="6"/><rect x="34" y="337" width="1" height="45"/><rect x="32" y="366" width="5" height="12"/><rect x="42" y="368" width="1" height="21"/><rect x="40" y="377" width="5" height="6"/><rect x="50" y="379" width="1" height="61"/><rect x="48" y="383" width="5" height="56"/><rect x="82" y="329" width="1" height="31"/><rect x="80" y="339" width="5" height="14"/><rect x="98" y="335" width="1" height="39"/><rect x="96" y="345" width="5" height="19"/><rect x="106" y="360" width="1" height="25"/><rect x="104" y="364" width="5" height="14"/><rect x="130" y="330" width="1" height="37"/><rect x="128" y="332" width="5" height="34"/><rect x="138" y="362" width="1" height="27"/><rect x="136" y="363" width="5" height="10"/><rect x="170" y="297" width="1" height="17"/><rect x="168" y="299" width="5" height="13"/><rect x="186" y="285" width="1" height="28"/><rect x="184" y="301" width="5" height="9"/><rect x="218" y="279" width="1" height="54"/><rect x="216" y="289" width="5" height="43"/><rect x="234" y="277" width="1" height="37"/><rect x="232" y="304" width="5" height="8"/><rect x="242" y="308" width="1" height="46"/><rect x="240" y="310" width="5" height="35"/><rect x="258" y="320" width="1" height="31.5"/><rect x="256" y="340" width="5" height="3.5"/><rect x="282" y="257" width="1" height="20"/><rect x="280" y="274" width="5" height="2"/><rect x="290" y="268" width="1" height="50"/><rect x="288" y="276" width="5" height="41"/><rect x="298" y="312" width="1" height="6"/><rect x="296" y="315" width="5" height="1"/><rect x="306" y="305" width="1" height="29"/><rect x="304" y="315" width="5" height="18"/><rect x="330" y="305" width="1" height="33"/><rect x="328" y="308" width="5" height="29"/><rect x="338" y="327" width="1" height="57"/><rect x="336" y="338" width="5" height="19"/><rect x="354" y="333" width="1" height="48"/><rect x="352" y="352" width="5" height="19"/><rect x="362" y="367" width="1" height="55"/><rect x="360" y="370" width="5" height="47"/><rect x="370" y="409" width="1" height="47"/><rect x="368" y="417" width="5" height="25"/><rect x="402" y="346" width="1" height="27"/><rect x="400" y="358" width="5" height="5"/><rect x="410" y="348" width="1" height="59"/><rect x="408" y="358" width="5" height="37"/><rect x="442" y="294" width="1" height="58"/><rect x="440" y="338" width="5" height="4"/><rect x="450" y="333" width="1" height="41"/><rect x="448" y="341" width="5" height="22"/><rect x="458" y="350" width="1" height="38"/><rect x="456" y="363" width="5" height="2"/><rect x="482" y="314" width="1" height="37"/><rect x="480" y="326" width="5" height="5"/><rect x="490" y="306" width="1" height="33"/><rect x="488" y="332" width="5" height="4"/><rect x="522" y="302" width="1" height="81"/><rect x="520" y="304" width="5" height="40"/><rect x="546" y="270" width="1" height="30"/><rect x="544" y="287" width="5" height="6"/><rect x="578" y="184" width="1" height="74"/><rect x="576" y="224" width="5" height="33"/><rect x="586" y="238" width="1" height="59"/><rect x="584" y="256" width="5" height="29"/><rect x="610" y="226" width="1" height="49"/><rect x="608" y="234" width="5" height="37"/><rect x="626" y="265" width="1" height="66"/><rect x="624" y="271" width="5" height="59"/><rect x="666" y="200" width="1" height="8"/><rect x="664" y="203" width="5" height="4"/><rect x="674" y="194" width="1" height="29"/><rect x="672" y="207" width="5" height="5"/><rect x="714" y="128" width="1" height="43"/><rect x="712" y="149" width="5" height="9"/><rect x="738" y="136" width="1" height="31"/><rect x="736" y="147" width="5" height="16"/><rect x="770" y="97" width="1" height="61"/><rect x="768" y="106" width="5" height="43"/><rect x="778" y="140" width="1" height="30"/><rect x="776" y="146" width="5" height="16"/><rect x="786" y="155" width="1" height="39"/><rect x="784" y="162" width="5" height="12"/><rect x="794" y="173" width="1" height="27"/><rect x="792" y="180" width="5" height="20"/><rect x="810" y="165" width="1" height="48"/><rect x="808" y="175" width="5" height="8"/><rect x="818" y="169" width="1" height="41"/><rect x="816" y="183" width="5" height="15"/><rect x="826" y="197" width="1" height="17"/><rect x="824" y="198" width="5" height="15"/><rect x="834" y="205" width="1" height="36"/><rect x="832" y="213" width="5" height="26"/><rect x="858" y="174" width="1" height="54"/><rect x="856" y="182" width="5" height="42"/><rect x="866" y="221" width="1" height="79"/><rect x="864" y="222" width="5" height="75"/><rect x="874" y="292" width="1" height="67"/><rect x="872" y="293" width="5" height="43"/><rect x="882" y="308" width="1" height="61"/><rect x="880" y="336" width="5" height="32"/><rect x="898" y="343" width="1" height="63"/><rect x="896" y="365" width="5" height="19"/><rect x="906" y="333" width="1" height="70"/><rect x="904" y="385" width="5" height="17"/><rect x="914" y="389" width="1" height="30"/><rect x="912" y="398" width="5" height="11"/><rect x="938" y="284" width="1" height="108"/><rect x="936" y="289" width="5" height="86"/><rect x="946" y="359" width="1" height="44"/><rect x="944" y="374" width="5" height="23"/><rect x="954" y="395" width="1" height="72"/><rect x="952" y="399" width="5" height="67"/><rect x="962" y="444" width="1" height="43"/><rect x="960" y="465" width="5" height="9"/><rect x="970" y="405" width="1" height="72"/><rect x="968" y="473" width="5" height="1"/><rect x="978" y="463" width="1" height="71"/><rect x="976" y="474" width="5" height="46"/><rect x="1010" y="409" width="1" height="56"/><rect x="1008" y="421" width="5" height="43"/><rect x="1026" y="394" width="1" height="42"/><rect x="1024" y="409" width="5" height="6"/><rect x="1042" y="372" width="1" height="32"/><rect x="1040" y="376" width="5" height="4"/><rect x="1050" y="368" width="1" height="48"/><rect x="1048" y="380" width="5" height="6"/><rect x="1082" y="320" width="1" height="32"/><rect x="1080" y="325" width="5" height="13"/><rect x="1106" y="275" width="1" height="47"/><rect x="1104" y="285" width="5" height="35"/><rect x="1114" y="303" width="1" height="27"/><rect x="1112" y="315" width="5" height="13"/><rect x="1130" y="302" width="1" height="34"/><rect x="1128" y="305" width="5" height="22"/><rect x="1138" y="323" width="1" height="61"/><rect x="1136" y="327" width="5" height="56"/><rect x="1146" y="357" width="1" height="59"/><rect x="1144" y="381" width="5" height="32"/><rect x="1154" y="410" width="1" height="78"/><rect x="1152" y="415" width="5" height="67"/><rect x="1162" y="453" width="1" height="69"/><rect x="1160" y="482" width="5" height="31"/><rect x="1186" y="407" width="1" height="89"/><rect x="1184" y="415" width="5" height="59"/><rect x="1210" y="452" width="1" height="53"/><rect x="1208" y="457" width="5" height="23"/><rect x="1218" y="478" width="1" height="34"/><rect x="1216" y="479" width="5" height="18"/><rect x="1234" y="460" width="1" height="30"/><rect x="1232" y="468" width="5" height="14"/><rect x="1242" y="456" width="1" height="36"/><rect x="1240" y="482" width="5" height="8"/><rect x="1250" y="482" width="1" height="33"/><rect x="1248" y="490" width="5" height="17"/><rect x="1266" y="492" width="1" height="80"/><rect x="1264" y="494" width="5" height="49"/><rect x="1282" y="496" width="1" height="76"/><rect x="1280" y="514" width="5" height="38"/><rect x="1290" y="536" width="1" height="36"/><rect x="1288" y="550" width="5" height="13"/></g>
</g>
<g clip-path="url(#cmacd)">
<line x1="2" y1="670.5" x2="1583" y2="670.5" stroke="#C0C0C0" stroke-width="1" stroke-dasharray="3 3" shape-rendering="crispEdges"/>
<g stroke="#C0C0C0" stroke-width="1" shape-rendering="crispEdges"><line x1="2.5" y1="670.5" x2="2.5" y2="685"/><line x1="10.5" y1="670.5" x2="10.5" y2="700"/><line x1="18.5" y1="670.5" x2="18.5" y2="701.3"/><line x1="26.5" y1="670.5" x2="26.5" y2="702.6"/><line x1="34.5" y1="670.5" x2="34.5" y2="703.8"/><line x1="42.5" y1="670.5" x2="42.5" y2="706.4"/><line x1="50.5" y1="670.5" x2="50.5" y2="710.2"/><line x1="58.5" y1="670.5" x2="58.5" y2="710.2"/><line x1="66.5" y1="670.5" x2="66.5" y2="708.4"/><line x1="74.5" y1="670.5" x2="74.5" y2="705"/><line x1="82.5" y1="670.5" x2="82.5" y2="701.8"/><line x1="90.5" y1="670.5" x2="90.5" y2="697.5"/><line x1="98.5" y1="670.5" x2="98.5" y2="695.7"/><line x1="106.5" y1="670.5" x2="106.5" y2="695.7"/><line x1="114.5" y1="670.5" x2="114.5" y2="692.4"/><line x1="122.5" y1="670.5" x2="122.5" y2="689"/><line x1="130.5" y1="670.5" x2="130.5" y2="689"/><line x1="138.5" y1="670.5" x2="138.5" y2="689"/><line x1="146.5" y1="670.5" x2="146.5" y2="687.3"/><line x1="154.5" y1="670.5" x2="154.5" y2="682.2"/><line x1="162.5" y1="670.5" x2="162.5" y2="678.4"/><line x1="170.5" y1="670.5" x2="170.5" y2="676.4"/><line x1="178.5" y1="670.5" x2="178.5" y2="673.4"/><line x1="186.5" y1="670.5" x2="186.5" y2="672"/><line x1="194.5" y1="670.5" x2="194.5" y2="670.8"/><line x1="202.5" y1="670.5" x2="202.5" y2="667"/><line x1="210.5" y1="670.5" x2="210.5" y2="665.2"/><line x1="218.5" y1="670.5" x2="218.5" y2="667"/><line x1="226.5" y1="670.5" x2="226.5" y2="666.2"/><line x1="234.5" y1="670.5" x2="234.5" y2="668.3"/><line x1="242.5" y1="670.5" x2="242.5" y2="670"/><line x1="250.5" y1="670.5" x2="250.5" y2="670"/><line x1="258.5" y1="670.5" x2="258.5" y2="671.2"/><line x1="266.5" y1="670.5" x2="266.5" y2="670"/><line x1="274.5" y1="670.5" x2="274.5" y2="670"/><line x1="282.5" y1="670.5" x2="282.5" y2="664.2"/><line x1="290.5" y1="670.5" x2="290.5" y2="666"/><line x1="298.5" y1="670.5" x2="298.5" y2="669"/><line x1="306.5" y1="670.5" x2="306.5" y2="670"/><line x1="314.5" y1="670.5" x2="314.5" y2="670"/><line x1="322.5" y1="670.5" x2="322.5" y2="670"/><line x1="330.5" y1="670.5" x2="330.5" y2="670"/><line x1="338.5" y1="670.5" x2="338.5" y2="672.7"/><line x1="346.5" y1="670.5" x2="346.5" y2="674.5"/><line x1="354.5" y1="670.5" x2="354.5" y2="676.3"/><line x1="362.5" y1="670.5" x2="362.5" y2="681.7"/><line x1="370.5" y1="670.5" x2="370.5" y2="687.8"/><line x1="378.5" y1="670.5" x2="378.5" y2="688.4"/><line x1="386.5" y1="670.5" x2="386.5" y2="686.6"/><line x1="394.5" y1="670.5" x2="394.5" y2="684.8"/><line x1="402.5" y1="670.5" x2="402.5" y2="683"/><line x1="410.5" y1="670.5" x2="410.5" y2="683.5"/><line x1="418.5" y1="670.5" x2="418.5" y2="684"/><line x1="426.5" y1="670.5" x2="426.5" y2="681"/><line x1="434.5" y1="670.5" x2="434.5" y2="677.2"/><line x1="442.5" y1="670.5" x2="442.5" y2="675.9"/><line x1="450.5" y1="670.5" x2="450.5" y2="677.2"/><line x1="458.5" y1="670.5" x2="458.5" y2="677.2"/><line x1="466.5" y1="670.5" x2="466.5" y2="675.4"/><line x1="474.5" y1="670.5" x2="474.5" y2="672"/><line x1="482.5" y1="670.5" x2="482.5" y2="670.8"/><line x1="490.5" y1="670.5" x2="490.5" y2="668.8"/><line x1="498.5" y1="670.5" x2="498.5" y2="667"/><line x1="506.5" y1="670.5" x2="506.5" y2="665.7"/><line x1="514.5" y1="670.5" x2="514.5" y2="663.7"/><line x1="522.5" y1="670.5" x2="522.5" y2="665.2"/><line x1="530.5" y1="670.5" x2="530.5" y2="662.7"/><line x1="538.5" y1="670.5" x2="538.5" y2="660.6"/><line x1="546.5" y1="670.5" x2="546.5" y2="659.4"/><line x1="554.5" y1="670.5" x2="554.5" y2="656.8"/><line x1="562.5" y1="670.5" x2="562.5" y2="653.5"/><line x1="570.5" y1="670.5" x2="570.5" y2="650"/><line x1="578.5" y1="670.5" x2="578.5" y2="649.2"/><line x1="586.5" y1="670.5" x2="586.5" y2="651"/><line x1="594.5" y1="670.5" x2="594.5" y2="650"/><line x1="602.5" y1="670.5" x2="602.5" y2="648"/><line x1="610.5" y1="670.5" x2="610.5" y2="650"/><line x1="618.5" y1="670.5" x2="618.5" y2="651"/><line x1="626.5" y1="670.5" x2="626.5" y2="655.6"/><line x1="634.5" y1="670.5" x2="634.5" y2="659.4"/><line x1="642.5" y1="670.5" x2="642.5" y2="659.4"/><line x1="650.5" y1="670.5" x2="650.5" y2="655"/><line x1="658.5" y1="670.5" x2="658.5" y2="652.5"/><line x1="666.5" y1="670.5" x2="666.5" y2="650"/><line x1="674.5" y1="670.5" x2="674.5" y2="648"/><line x1="682.5" y1="670.5" x2="682.5" y2="645"/><line x1="690.5" y1="670.5" x2="690.5" y2="640.8"/><line x1="698.5" y1="670.5" x2="698.5" y2="637.8"/><line x1="706.5" y1="670.5" x2="706.5" y2="635.8"/><line x1="714.5" y1="670.5" x2="714.5" y2="634.7"/><line x1="722.5" y1="670.5" x2="722.5" y2="634.7"/><line x1="730.5" y1="670.5" x2="730.5" y2="634.7"/><line x1="738.5" y1="670.5" x2="738.5" y2="635.8"/><line x1="746.5" y1="670.5" x2="746.5" y2="635.8"/><line x1="754.5" y1="670.5" x2="754.5" y2="635.8"/><line x1="762.5" y1="670.5" x2="762.5" y2="634.7"/><line x1="770.5" y1="670.5" x2="770.5" y2="635.8"/><line x1="778.5" y1="670.5" x2="778.5" y2="639.8"/><line x1="786.5" y1="670.5" x2="786.5" y2="642.9"/><line x1="794.5" y1="670.5" x2="794.5" y2="646.7"/><line x1="802.5" y1="670.5" x2="802.5" y2="650"/><line x1="810.5" y1="670.5" x2="810.5" y2="651.8"/><line x1="818.5" y1="670.5" x2="818.5" y2="655"/><line x1="826.5" y1="670.5" x2="826.5" y2="659.4"/><line x1="834.5" y1="670.5" x2="834.5" y2="663.7"/><line x1="842.5" y1="670.5" x2="842.5" y2="666.2"/><line x1="850.5" y1="670.5" x2="850.5" y2="665.7"/><line x1="858.5" y1="670.5" x2="858.5" y2="667.8"/><line x1="866.5" y1="670.5" x2="866.5" y2="675.4"/><line x1="874.5" y1="670.5" x2="874.5" y2="683.5"/><line x1="882.5" y1="670.5" x2="882.5" y2="691.6"/><line x1="890.5" y1="670.5" x2="890.5" y2="697.5"/><line x1="898.5" y1="670.5" x2="898.5" y2="702.6"/><line x1="906.5" y1="670.5" x2="906.5" y2="707.7"/><line x1="914.5" y1="670.5" x2="914.5" y2="711.5"/><line x1="922.5" y1="670.5" x2="922.5" y2="712.7"/><line x1="930.5" y1="670.5" x2="930.5" y2="707.7"/><line x1="938.5" y1="670.5" x2="938.5" y2="707.7"/><line x1="946.5" y1="670.5" x2="946.5" y2="709.4"/><line x1="954.5" y1="670.5" x2="954.5" y2="714.5"/><line x1="962.5" y1="670.5" x2="962.5" y2="717.8"/><line x1="970.5" y1="670.5" x2="970.5" y2="721.6"/><line x1="978.5" y1="670.5" x2="978.5" y2="725.4"/><line x1="986.5" y1="670.5" x2="986.5" y2="725.4"/><line x1="994.5" y1="670.5" x2="994.5" y2="723.7"/><line x1="1002.5" y1="670.5" x2="1002.5" y2="720.4"/><line x1="1010.5" y1="670.5" x2="1010.5" y2="719"/><line x1="1018.5" y1="670.5" x2="1018.5" y2="713.5"/><line x1="1026.5" y1="670.5" x2="1026.5" y2="710.2"/><line x1="1034.5" y1="670.5" x2="1034.5" y2="702.6"/><line x1="1042.5" y1="670.5" x2="1042.5" y2="697.5"/><line x1="1050.5" y1="670.5" x2="1050.5" y2="695"/><line x1="1058.5" y1="670.5" x2="1058.5" y2="690.6"/><line x1="1066.5" y1="670.5" x2="1066.5" y2="685.5"/><line x1="1074.5" y1="670.5" x2="1074.5" y2="679.7"/><line x1="1082.5" y1="670.5" x2="1082.5" y2="675.9"/><line x1="1090.5" y1="670.5" x2="1090.5" y2="672.8"/><line x1="1098.5" y1="670.5" x2="1098.5" y2="665.7"/><line x1="1106.5" y1="670.5" x2="1106.5" y2="663.7"/><line x1="1114.5" y1="670.5" x2="1114.5" y2="662.7"/><line x1="1122.5" y1="670.5" x2="1122.5" y2="659.4"/><line x1="1130.5" y1="670.5" x2="1130.5" y2="660.1"/><line x1="1138.5" y1="670.5" x2="1138.5" y2="665.7"/><line x1="1146.5" y1="670.5" x2="1146.5" y2="667"/><line x1="1154.5" y1="670.5" x2="1154.5" y2="677.9"/><line x1="1162.5" y1="670.5" x2="1162.5" y2="686.6"/><line x1="1170.5" y1="670.5" x2="1170.5" y2="688.1"/><line x1="1178.5" y1="670.5" x2="1178.5" y2="686.6"/><line x1="1186.5" y1="670.5" x2="1186.5" y2="689.9"/><line x1="1194.5" y1="670.5" x2="1194.5" y2="692.4"/><line x1="1202.5" y1="670.5" x2="1202.5" y2="692.5"/><line x1="1210.5" y1="670.5" x2="1210.5" y2="694.6"/><line x1="1218.5" y1="670.5" x2="1218.5" y2="696.6"/><line x1="1226.5" y1="670.5" x2="1226.5" y2="696.6"/><line x1="1234.5" y1="670.5" x2="1234.5" y2="696.6"/><line x1="1242.5" y1="670.5" x2="1242.5" y2="697.3"/><line x1="1250.5" y1="670.5" x2="1250.5" y2="698.7"/><line x1="1258.5" y1="670.5" x2="1258.5" y2="697.3"/><line x1="1266.5" y1="670.5" x2="1266.5" y2="700.7"/><line x1="1274.5" y1="670.5" x2="1274.5" y2="700.7"/><line x1="1282.5" y1="670.5" x2="1282.5" y2="702.8"/><line x1="1290.5" y1="670.5" x2="1290.5" y2="704.8"/><line x1="1298.5" y1="670.5" x2="1298.5" y2="704.8"/></g>
<polyline points="2.5,687.3 10.5,689.7 18.5,692.2 26.5,694.5 34.5,696.3 42.5,698.1 50.5,699.8 58.5,701.6 66.5,703.3 74.5,705 82.5,705 90.5,705 98.5,704 106.5,702.7 114.5,701.4 122.5,699.5 130.5,697.4 138.5,695.4 146.5,693.4 154.5,691.4 162.5,689.2 170.5,686.3 178.5,683.9 186.5,681.9 194.5,679.6 202.5,677.2 210.5,674.8 218.5,672.4 226.5,670.7 234.5,669.6 242.5,668.9 250.5,668.5 258.5,668.4 266.5,668.3 274.5,668.7 282.5,668.5 290.5,668.4 298.5,668.7 306.5,668.9 314.5,668.9 322.5,668.9 330.5,668.8 338.5,669.1 346.5,669.6 354.5,670.9 362.5,672.7 370.5,674.8 378.5,676.8 386.5,678.7 394.5,680.3 402.5,681.8 410.5,683 418.5,684 426.5,684.5 434.5,684 442.5,682.7 450.5,681.5 458.5,680.4 466.5,679.4 474.5,678.2 482.5,676.7 490.5,675.1 498.5,673.5 506.5,672.2 514.5,670.9 522.5,669.5 530.5,667.9 538.5,666.3 546.5,664.9 554.5,663.3 562.5,661.6 570.5,659.7 578.5,657.9 586.5,656.5 594.5,654.8 602.5,653.2 610.5,652 618.5,651.1 626.5,650.9 634.5,651.6 642.5,652.6 650.5,653.3 658.5,653.4 666.5,653.4 674.5,653.4 682.5,652.9 690.5,651.7 698.5,649.8 706.5,647.1 714.5,644.4 722.5,642.1 730.5,640.2 738.5,638.6 746.5,637.2 754.5,636.2 762.5,635.5 770.5,635.3 778.5,635.8 786.5,636.7 794.5,638 802.5,639.7 810.5,641.5 818.5,643.6 826.5,646.2 834.5,649.5 842.5,652.8 850.5,655.7 858.5,658.5 866.5,661.7 874.5,665.4 882.5,669.8 890.5,674.5 898.5,679.3 906.5,684.2 914.5,689.3 922.5,694.5 930.5,698.9 938.5,702.5 946.5,705.4 954.5,707.9 962.5,710.2 970.5,712.3 978.5,714.3 986.5,715.8 994.5,717 1002.5,718.4 1010.5,719.7 1018.5,720.1 1026.5,719.7 1034.5,718 1042.5,715.3 1050.5,711.9 1058.5,708.1 1066.5,703.8 1074.5,699.3 1082.5,694.5 1090.5,690 1098.5,685 1106.5,680.7 1114.5,676.8 1122.5,672.9 1130.5,669.5 1138.5,667.3 1146.5,665.9 1154.5,666.1 1162.5,667.6 1170.5,670.1 1178.5,672.7 1186.5,675.7 1194.5,679.4 1202.5,683 1210.5,686.2 1218.5,689.5 1226.5,691.5 1234.5,692.7 1242.5,693.7 1250.5,695 1258.5,695.8 1266.5,696.8 1274.5,697.7 1282.5,698.6 1290.5,699.5 1298.5,700.4" fill="none" stroke="#FF0000" stroke-width="1" stroke-dasharray="3 3" shape-rendering="crispEdges"/>
</g>
<g clip-path="url(#crsi)">
<line x1="2" y1="772.5" x2="1583" y2="772.5" stroke="#C0C0C0" stroke-width="1" stroke-dasharray="3 3" shape-rendering="crispEdges"/>
<line x1="2" y1="795.5" x2="1583" y2="795.5" stroke="#C0C0C0" stroke-width="1" stroke-dasharray="3 3" shape-rendering="crispEdges"/>
<line x1="2" y1="818.5" x2="1583" y2="818.5" stroke="#C0C0C0" stroke-width="1" stroke-dasharray="3 3" shape-rendering="crispEdges"/>
<polyline points="2.5,818.9 10.5,824.5 18.5,821.5 26.5,821 34.5,822.7 42.5,824 50.5,831.1 58.5,817.7 66.5,808.8 74.5,799.9 82.5,803.7 90.5,799.1 98.5,804.2 106.5,807.5 114.5,798 122.5,797.3 130.5,803.2 138.5,804.2 146.5,798.6 154.5,792.2 162.5,788.9 170.5,791.5 178.5,789.7 186.5,791.5 194.5,788.4 202.5,788.4 210.5,785.1 218.5,798 226.5,792.2 234.5,793 242.5,801.6 250.5,798.6 258.5,800.6 266.5,794.8 274.5,785.1 282.5,786.4 290.5,795.5 298.5,795.5 306.5,799.1 314.5,795.5 322.5,793.5 330.5,800.6 338.5,803.7 346.5,803.7 354.5,805.7 362.5,813.8 370.5,818.2 378.5,806.7 386.5,798.6 394.5,797.3 402.5,798.9 410.5,804 418.5,798.9 426.5,795.4 434.5,791.3 442.5,792.8 450.5,797.9 458.5,798.4 466.5,794.6 474.5,789.5 482.5,790.3 490.5,792.1 498.5,790.3 506.5,786.2 514.5,784.5 522.5,795.9 530.5,787.8 538.5,784.5 546.5,785.7 554.5,781.2 562.5,778.6 570.5,774.3 578.5,781.9 586.5,790.3 594.5,785.2 602.5,781.4 610.5,788.8 618.5,790.3 626.5,801 634.5,800.5 642.5,790.3 650.5,783.2 658.5,780.1 666.5,781.2 674.5,782.7 682.5,778.1 690.5,775.1 698.5,774.3 706.5,774.3 714.5,778.1 722.5,776.3 730.5,776.8 738.5,781.2 746.5,779.4 754.5,775.6 762.5,772.5 770.5,784.5 778.5,787 786.5,790.3 794.5,796.4 802.5,792.1 810.5,792.1 818.5,795.4 826.5,799.7 834.5,804.8 842.5,801 850.5,791.3 858.5,799.7 866.5,810.6 874.5,815 882.5,818.3 890.5,818.3 898.5,820 906.5,821.3 914.5,822 922.5,815.7 930.5,797.9 938.5,807.3 946.5,811.1 954.5,816.2 962.5,816.2 970.5,817.5 978.5,820.8 986.5,811.6 994.5,807.3 1002.5,803.5 1010.5,808.1 1018.5,800.5 1026.5,800.5 1034.5,795.9 1042.5,796.4 1050.5,796.4 1058.5,795.9 1066.5,790.8 1074.5,787 1082.5,790.3 1090.5,790.3 1098.5,782.7 1106.5,789.5 1114.5,790.3 1122.5,787 1130.5,790.8 1138.5,799.7 1146.5,803.5 1154.5,812.4 1162.5,815.7 1170.5,802.2 1178.5,799.7 1186.5,806.6 1194.5,805.4 1202.5,803.4 1210.5,806.5 1218.5,808.5 1226.5,803.4 1234.5,805.4 1242.5,806.5 1250.5,808.5 1258.5,805.4 1266.5,811.6 1274.5,806.5 1282.5,810.5 1290.5,812.7 1298.5,808.3" fill="none" stroke="#FF0000" stroke-width="1" shape-rendering="crispEdges"/>
</g>
<g stroke="#000" stroke-width="1" fill="none" shape-rendering="crispEdges">
<rect x="2.5" y="2.5" width="1581" height="621"/>
<rect x="2.5" y="625.5" width="1581" height="110"/>
<rect x="2.5" y="737.5" width="1581" height="116"/>
</g>
<g stroke="#000" stroke-width="1" shape-rendering="crispEdges">
<line x1="1584" y1="15.5" x2="1588" y2="15.5"/>
<line x1="1584" y1="47.5" x2="1588" y2="47.5"/>
<line x1="1584" y1="79.5" x2="1588" y2="79.5"/>
<line x1="1584" y1="111.5" x2="1588" y2="111.5"/>
<line x1="1584" y1="143.5" x2="1588" y2="143.5"/>
<line x1="1584" y1="175.5" x2="1588" y2="175.5"/>
<line x1="1584" y1="207.5" x2="1588" y2="207.5"/>
<line x1="1584" y1="239.5" x2="1588" y2="239.5"/>
<line x1="1584" y1="271.5" x2="1588" y2="271.5"/>
<line x1="1584" y1="303.5" x2="1588" y2="303.5"/>
<line x1="1584" y1="335.5" x2="1588" y2="335.5"/>
<line x1="1584" y1="367.5" x2="1588" y2="367.5"/>
<line x1="1584" y1="399.5" x2="1588" y2="399.5"/>
<line x1="1584" y1="431.5" x2="1588" y2="431.5"/>
<line x1="1584" y1="463.5" x2="1588" y2="463.5"/>
<line x1="1584" y1="495.5" x2="1588" y2="495.5"/>
<line x1="1584" y1="527.5" x2="1588" y2="527.5"/>
<line x1="1584" y1="559.5" x2="1588" y2="559.5"/>
<line x1="1584" y1="591.5" x2="1588" y2="591.5"/>
</g>
<text x="1588" y="20" font-size="12.5px" fill="#000">0.77360</text>
<text x="1588" y="52" font-size="12.5px" fill="#000">0.76800</text>
<text x="1588" y="84" font-size="12.5px" fill="#000">0.76240</text>
<text x="1588" y="116" font-size="12.5px" fill="#000">0.75680</text>
<text x="1588" y="148" font-size="12.5px" fill="#000">0.75120</text>
<text x="1588" y="180" font-size="12.5px" fill="#000">0.74560</text>
<text x="1588" y="212" font-size="12.5px" fill="#000">0.74000</text>
<text x="1588" y="244" font-size="12.5px" fill="#000">0.73440</text>
<text x="1588" y="276" font-size="12.5px" fill="#000">0.72880</text>
<text x="1588" y="308" font-size="12.5px" fill="#000">0.72320</text>
<text x="1588" y="340" font-size="12.5px" fill="#000">0.71760</text>
<text x="1588" y="372" font-size="12.5px" fill="#000">0.71200</text>
<text x="1588" y="404" font-size="12.5px" fill="#000">0.70640</text>
<text x="1588" y="436" font-size="12.5px" fill="#000">0.70080</text>
<text x="1588" y="468" font-size="12.5px" fill="#000">0.69520</text>
<text x="1588" y="500" font-size="12.5px" fill="#000">0.68960</text>
<text x="1588" y="532" font-size="12.5px" fill="#000">0.68400</text>
<text x="1588" y="564" font-size="12.5px" fill="#000">0.67840</text>
<text x="1588" y="596" font-size="12.5px" fill="#000">0.67280</text>
<rect x="1586" y="52" width="54" height="14" fill="#000"/>
<text x="1590" y="64" font-size="12.5px" fill="#fff">0.76600</text>
<rect x="1586" y="149" width="54" height="14" fill="#000"/>
<text x="1590" y="161" font-size="12.5px" fill="#fff">0.74900</text>
<rect x="1586" y="168" width="54" height="14" fill="#000"/>
<text x="1590" y="180" font-size="12.5px" fill="#fff">0.74570</text>
<rect x="1586" y="234" width="54" height="14" fill="#000"/>
<text x="1590" y="246" font-size="12.5px" fill="#fff">0.73400</text>
<rect x="1586" y="269" width="54" height="14" fill="#000"/>
<text x="1590" y="281" font-size="12.5px" fill="#fff">0.72800</text>
<rect x="1586" y="389" width="54" height="14" fill="#000"/>
<text x="1590" y="401" font-size="12.5px" fill="#fff">0.70700</text>
<rect x="1586" y="449" width="54" height="14" fill="#000"/>
<text x="1590" y="461" font-size="12.5px" fill="#fff">0.69650</text>
<rect x="1586" y="535" width="54" height="14" fill="#000"/>
<text x="1590" y="547" font-size="12.5px" fill="#fff">0.68139</text>
<rect x="1586" y="566" width="54" height="14" fill="#000"/>
<text x="1590" y="578" font-size="12.5px" fill="#fff">0.67600</text>
<g stroke="#000" stroke-width="1" shape-rendering="crispEdges"><line x1="1584" y1="626.5" x2="1588" y2="626.5"/><line x1="1584" y1="670.5" x2="1588" y2="670.5"/><line x1="1584" y1="734.5" x2="1588" y2="734.5"/></g>
<text x="1588" y="637" font-size="12.5px" fill="#000">0.009404</text>
<text x="1588" y="675" font-size="12.5px" fill="#000">0.000000</text>
<text x="1588" y="733" font-size="12.5px" fill="#000">-0.013764</text>
<g stroke="#000" stroke-width="1" shape-rendering="crispEdges"><line x1="1584" y1="738.5" x2="1588" y2="738.5"/><line x1="1584" y1="772.5" x2="1588" y2="772.5"/><line x1="1584" y1="795.5" x2="1588" y2="795.5"/><line x1="1584" y1="818.5" x2="1588" y2="818.5"/><line x1="1584" y1="852.5" x2="1588" y2="852.5"/></g>
<text x="1588" y="749" font-size="12.5px" fill="#000">100.00</text>
<text x="1588" y="777" font-size="12.5px" fill="#000">70.00</text>
<text x="1588" y="800" font-size="12.5px" fill="#000">50.00</text>
<text x="1588" y="823" font-size="12.5px" fill="#000">30.00</text>
<text x="1588" y="851" font-size="12.5px" fill="#000">0.00</text>
<g stroke="#000" stroke-width="1" shape-rendering="crispEdges">
<line x1="2.5" y1="853" x2="2.5" y2="857"/>
<line x1="130.5" y1="853" x2="130.5" y2="857"/>
<line x1="258.5" y1="853" x2="258.5" y2="857"/>
<line x1="386.5" y1="853" x2="386.5" y2="857"/>
<line x1="514.5" y1="853" x2="514.5" y2="857"/>
<line x1="642.5" y1="853" x2="642.5" y2="857"/>
<line x1="770.5" y1="853" x2="770.5" y2="857"/>
<line x1="898.5" y1="853" x2="898.5" y2="857"/>
<line x1="1026.5" y1="853" x2="1026.5" y2="857"/>
<line x1="1154.5" y1="853" x2="1154.5" y2="857"/>
<line x1="1282.5" y1="853" x2="1282.5" y2="857"/>
</g>
<text x="2" y="869" font-size="12.5px" fill="#000">25 Nov 2021</text>
<text x="130" y="869" font-size="12.5px" fill="#000">17 Dec 2021</text>
<text x="258" y="869" font-size="12.5px" fill="#000">10 Jan 2022</text>
<text x="386" y="869" font-size="12.5px" fill="#000">1 Feb 2022</text>
<text x="514" y="869" font-size="12.5px" fill="#000">23 Feb 2022</text>
<text x="642" y="869" font-size="12.5px" fill="#000">16 Mar 2022</text>
<text x="770" y="869" font-size="12.5px" fill="#000">6 Apr 2022</text>
<text x="898" y="869" font-size="12.5px" fill="#000">28 Apr 2022</text>
<text x="1026" y="869" font-size="12.5px" fill="#000">20 May 2022</text>
<text x="1154" y="869" font-size="12.5px" fill="#000">13 Jun 2022</text>
<text x="1282" y="869" font-size="12.5px" fill="#000">5 Jul 2022</text>
<text x="5" y="641" font-size="12.5px" fill="#000">MACD(12,26,9) -0.007172 -0.006334</text>
<text x="5" y="753" font-size="12.5px" fill="#000">RSI(14) 39.21</text>
<text transform="translate(129.73,114.90) scale(0.9430,1)" font-size="49.75px" fill="#000">AUDUSD - Daily chart</text>
<text transform="translate(7.97,16.00) scale(0.9299,1)" font-size="12.40px" fill="#000" xml:space="preserve">AUDUSD, Daily:  Australian Dollar vs US Dollar</text>
<text transform="translate(1353.95,52.70) scale(0.9428,1)" font-size="22.60px" fill="#FF0000">0.7660 (10-month high)</text>
<text transform="translate(1505.53,152.60) scale(0.9622,1)" font-size="22.60px" fill="#FF0000">0.7490</text>
<text transform="translate(1505.53,173.80) scale(0.9622,1)" font-size="22.60px" fill="#FF0000">0.7457</text>
<text transform="translate(1505.53,239.00) scale(0.9622,1)" font-size="22.60px" fill="#FF0000">0.7340</text>
<text transform="translate(1505.53,274.80) scale(0.9622,1)" font-size="22.60px" fill="#FF0000">0.7280</text>
<text transform="translate(1505.53,394.50) scale(0.9622,1)" font-size="22.60px" fill="#FF0000">0.7070</text>
<text transform="translate(1505.53,453.80) scale(0.9622,1)" font-size="22.60px" fill="#FF0000">0.6965</text>
<text transform="translate(1385.84,571.60) scale(0.9543,1)" font-size="22.60px" fill="#008000">0.6760 (2-year low)</text>
<text transform="translate(401.49,216.90) scale(0.9801,1)" font-size="22.60px" fill="#0000FF">200-SMA</text>
<text transform="translate(681.50,328.00) scale(0.9768,1)" font-size="22.60px" fill="#FF9900">40-SMA</text>
<text transform="translate(969.19,322.90) scale(0.9844,1)" font-size="22.60px" fill="#007000">20-SMA</text>
<text transform="translate(1145.81,656.80) scale(0.9583,1)" font-size="22.60px" fill="#234545">MACD eases below its trigger and zero lines</text>
<text transform="translate(1217.62,791.60) scale(0.9521,1)" font-size="22.60px" fill="#234545">RSI points up in the negative region</text>
</svg></body></html>
